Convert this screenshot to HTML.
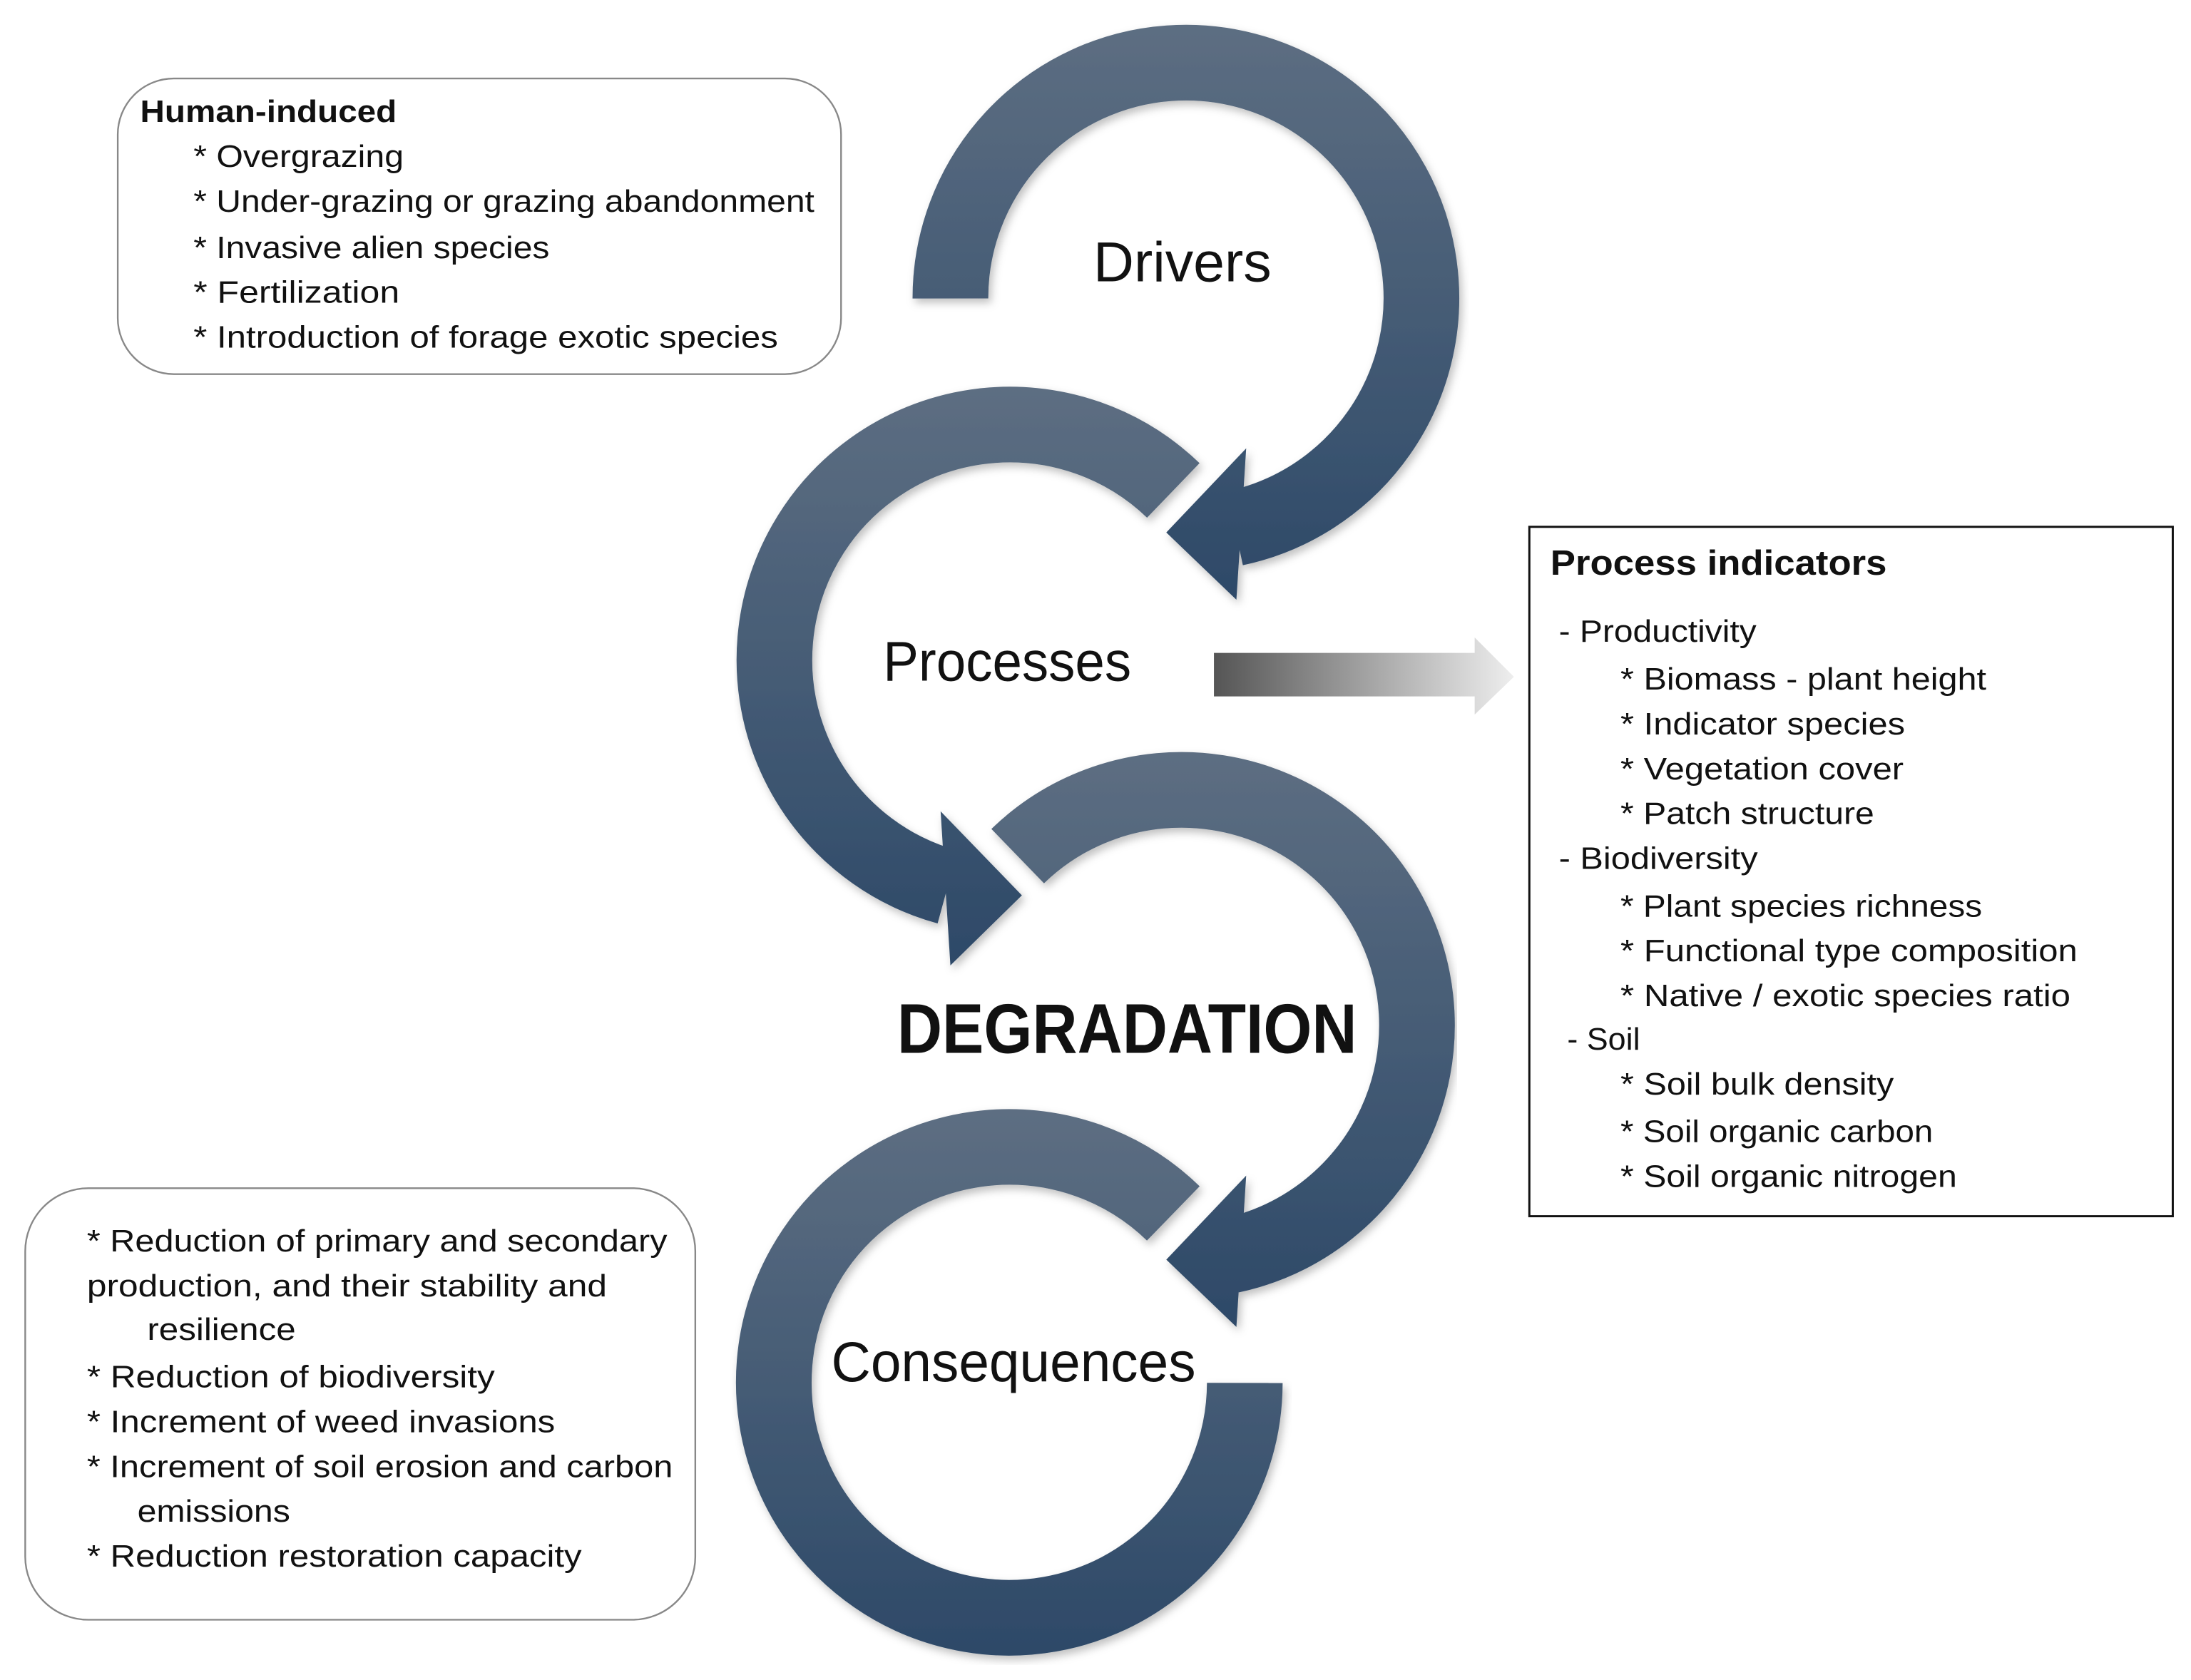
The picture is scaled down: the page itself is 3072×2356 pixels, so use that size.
<!DOCTYPE html>
<html><head><meta charset="utf-8">
<style>
html,body{margin:0;padding:0;background:#fff;}
svg{display:block;}
text{font-family:"Liberation Sans",sans-serif;fill:#111;}
</style></head>
<body>
<svg width="3072" height="2356" viewBox="0 0 1563 1199" preserveAspectRatio="none" xmlns="http://www.w3.org/2000/svg">
<defs>
<linearGradient id="g1" gradientUnits="userSpaceOnUse" x1="0" y1="18" x2="0" y2="430"><stop offset="0" stop-color="#5d6e82"/><stop offset="1" stop-color="#2d4968"/></linearGradient>
<linearGradient id="g2" gradientUnits="userSpaceOnUse" x1="0" y1="276" x2="0" y2="690"><stop offset="0" stop-color="#5d6e82"/><stop offset="1" stop-color="#2d4968"/></linearGradient>
<linearGradient id="g3" gradientUnits="userSpaceOnUse" x1="0" y1="537" x2="0" y2="948"><stop offset="0" stop-color="#5d6e82"/><stop offset="1" stop-color="#2d4968"/></linearGradient>
<linearGradient id="g4" gradientUnits="userSpaceOnUse" x1="0" y1="794" x2="0" y2="1182"><stop offset="0" stop-color="#5d6e82"/><stop offset="1" stop-color="#2d4968"/></linearGradient>
<linearGradient id="ga" x1="0" y1="0" x2="1" y2="0"><stop offset="0" stop-color="#555"/><stop offset="1" stop-color="#eee"/></linearGradient>
<filter id="sh" x="-10%" y="-10%" width="120%" height="120%"><feDropShadow dx="2" dy="3" stdDeviation="3" flood-color="#000" flood-opacity="0.25"/></filter>
</defs>

<!-- Ring 1 Drivers: center (846,213) -->
<g filter="url(#sh)">
<path d="M678,213 A168,168 0 1 1 881,377" fill="none" stroke="url(#g1)" stroke-width="54"/>
<polygon points="889,320 882,428 832,380" fill="url(#g1)"/>
</g>
<!-- Ring 2 Processes: center (720,471) -->
<g filter="url(#sh)">
<path d="M837,350 A168,168 0 1 0 676,633" fill="none" stroke="url(#g2)" stroke-width="54"/>
<polygon points="671,579 678,689 729,639" fill="url(#g2)"/>
</g>
<!-- Ring 3 Degradation: center (843,732) -->
<g filter="url(#sh)">
<path d="M726,611 A168,168 0 1 1 878,896" fill="none" stroke="url(#g3)" stroke-width="54"/>
<polygon points="889,839 882,947 832,899" fill="url(#g3)"/>
</g>
<!-- Ring 4 Consequences: center (720,987) -->
<g filter="url(#sh)">
<path d="M837,866 A168,168 0 1 0 888,987" fill="none" stroke="url(#g4)" stroke-width="54"/>
</g>

<!-- big labels -->
<text x="780" y="187" dominant-baseline="central" font-size="40" textLength="127" lengthAdjust="spacingAndGlyphs">Drivers</text>
<text x="630" y="472" dominant-baseline="central" font-size="40" textLength="177" lengthAdjust="spacingAndGlyphs">Processes</text>
<text x="640" y="734" dominant-baseline="central" font-size="50" font-weight="bold" textLength="328" lengthAdjust="spacingAndGlyphs">DEGRADATION</text>
<text x="593" y="972" dominant-baseline="central" font-size="40" textLength="260" lengthAdjust="spacingAndGlyphs">Consequences</text>

<!-- process arrow -->
<polygon points="866,466 1052,466 1052,455 1080,483 1052,510 1052,497 866,497" fill="url(#ga)"/>

<!-- Human-induced box -->
<rect x="84" y="56" width="516" height="211" rx="40" ry="40" fill="#fff" stroke="#888" stroke-width="1.2"/>
<g font-size="22">
<text x="100" y="80" dominant-baseline="central" font-weight="bold" textLength="183" lengthAdjust="spacingAndGlyphs">Human-induced</text>
<text x="138" y="112" dominant-baseline="central" textLength="150" lengthAdjust="spacingAndGlyphs">* Overgrazing</text>
<text x="138" y="144" dominant-baseline="central" textLength="443" lengthAdjust="spacingAndGlyphs">* Under-grazing or grazing abandonment</text>
<text x="138" y="177" dominant-baseline="central" textLength="254" lengthAdjust="spacingAndGlyphs">* Invasive alien species</text>
<text x="138" y="209" dominant-baseline="central" textLength="147" lengthAdjust="spacingAndGlyphs">* Fertilization</text>
<text x="138" y="241" dominant-baseline="central" textLength="417" lengthAdjust="spacingAndGlyphs">* Introduction  of forage exotic species</text>
</g>

<!-- Process indicators box -->
<rect x="1091" y="376" width="459" height="492" fill="#fff" stroke="#111" stroke-width="1.5"/>
<g font-size="22">
<text x="1106" y="402" dominant-baseline="central" font-size="25" font-weight="bold" textLength="240" lengthAdjust="spacingAndGlyphs">Process indicators</text>
<text x="1112" y="451" dominant-baseline="central" textLength="141" lengthAdjust="spacingAndGlyphs">- Productivity</text>
<text x="1156" y="485" dominant-baseline="central" textLength="261" lengthAdjust="spacingAndGlyphs">* Biomass - plant height</text>
<text x="1156" y="517" dominant-baseline="central" textLength="203" lengthAdjust="spacingAndGlyphs">* Indicator species</text>
<text x="1156" y="549" dominant-baseline="central" textLength="202" lengthAdjust="spacingAndGlyphs">* Vegetation cover</text>
<text x="1156" y="581" dominant-baseline="central" textLength="181" lengthAdjust="spacingAndGlyphs">* Patch structure</text>
<text x="1112" y="613" dominant-baseline="central" textLength="142" lengthAdjust="spacingAndGlyphs">- Biodiversity</text>
<text x="1156" y="647" dominant-baseline="central" textLength="258" lengthAdjust="spacingAndGlyphs">* Plant species richness</text>
<text x="1156" y="679" dominant-baseline="central" textLength="326" lengthAdjust="spacingAndGlyphs">* Functional type composition</text>
<text x="1156" y="711" dominant-baseline="central" textLength="321" lengthAdjust="spacingAndGlyphs">* Native / exotic species ratio</text>
<text x="1118" y="742" dominant-baseline="central" textLength="52" lengthAdjust="spacingAndGlyphs">- Soil</text>
<text x="1156" y="774" dominant-baseline="central" textLength="195" lengthAdjust="spacingAndGlyphs">* Soil bulk density</text>
<text x="1156" y="808" dominant-baseline="central" textLength="223" lengthAdjust="spacingAndGlyphs">* Soil organic carbon</text>
<text x="1156" y="840" dominant-baseline="central" textLength="240" lengthAdjust="spacingAndGlyphs">* Soil organic nitrogen</text>
</g>

<!-- Consequences box -->
<rect x="18" y="848" width="478" height="308" rx="45" ry="45" fill="#fff" stroke="#888" stroke-width="1.2"/>
<g font-size="22">
<text x="62" y="886" dominant-baseline="central" textLength="414" lengthAdjust="spacingAndGlyphs">* Reduction of primary and secondary</text>
<text x="62" y="918" dominant-baseline="central" textLength="371" lengthAdjust="spacingAndGlyphs">production,  and their stability and</text>
<text x="105" y="949" dominant-baseline="central" textLength="106" lengthAdjust="spacingAndGlyphs">resilience</text>
<text x="62" y="983" dominant-baseline="central" textLength="291" lengthAdjust="spacingAndGlyphs">* Reduction of biodiversity</text>
<text x="62" y="1015" dominant-baseline="central" textLength="334" lengthAdjust="spacingAndGlyphs">* Increment of weed invasions</text>
<text x="62" y="1047" dominant-baseline="central" textLength="418" lengthAdjust="spacingAndGlyphs">* Increment of soil erosion and carbon</text>
<text x="98" y="1079" dominant-baseline="central" textLength="109" lengthAdjust="spacingAndGlyphs">emissions</text>
<text x="62" y="1111" dominant-baseline="central" textLength="353" lengthAdjust="spacingAndGlyphs">* Reduction restoration capacity</text>
</g>
</svg>
</body></html>
